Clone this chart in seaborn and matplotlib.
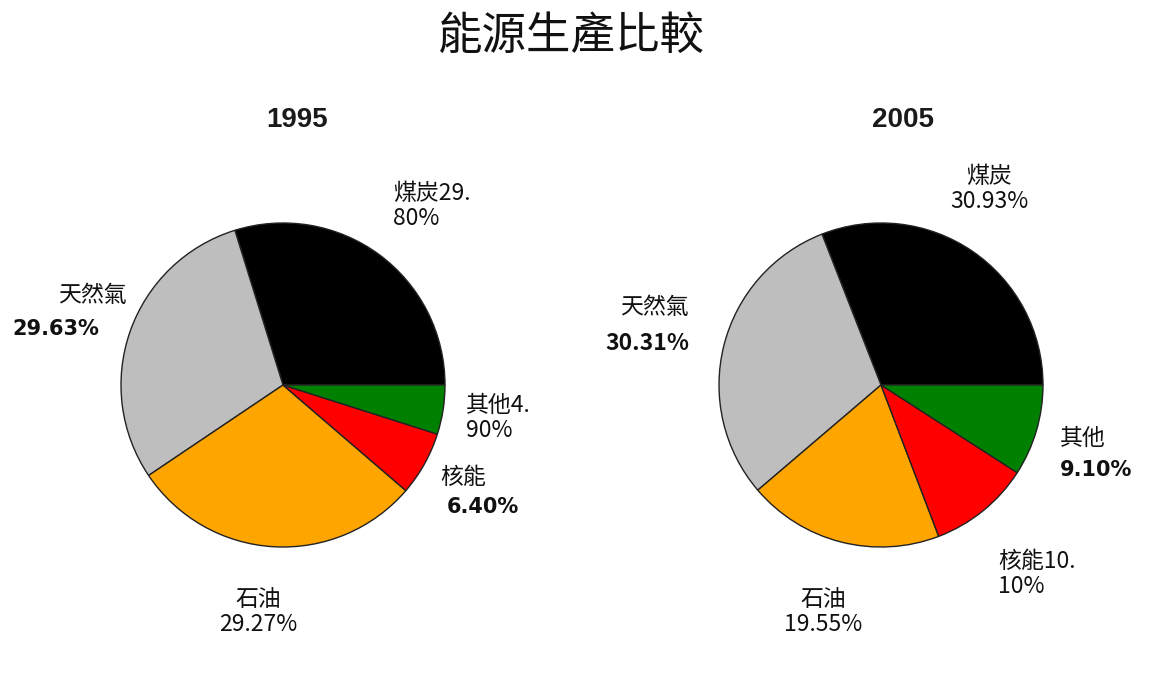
import matplotlib
matplotlib.use("Agg")
import matplotlib.pyplot as plt
import seaborn as sns

sns.set_theme(style="white")
plt.rcParams['font.family'] = ['Noto Sans CJK TC', 'DejaVu Sans']

# data
sources = ['煤炭', '天然氣', '石油', '核能', '其他']
share_1995 = [29.80, 29.63, 29.27, 6.40, 4.90]
share_2005 = [30.93, 30.31, 19.55, 10.10, 9.10]
colors = ['#000000', '#bebebe', '#ffa500', '#ff0000', '#008000']
years = ['1995', '2005']

W, H = 1152, 697
R = 162      # pie radius in pixels
HALF = 250   # half size of each axes box in pixels

fig = plt.figure(figsize=(W / 100, H / 100), dpi=100)
fig.patch.set_facecolor('white')


def draw_pie(values, cx, cy):
    ax = fig.add_axes([(cx - HALF) / W, (H - cy - HALF) / H,
                       2 * HALF / W, 2 * HALF / H])
    ax.pie(values, colors=colors, startangle=0, counterclock=True,
           wedgeprops=dict(edgecolor='#222222', linewidth=1.0))
    ax.set_xlim(-HALF / R, HALF / R)
    ax.set_ylim(-HALF / R, HALF / R)
    ax.axis('off')
    return ax


def put(ax, cx, cy, px, py, s, ha='left', **kw):
    kw.setdefault('fontsize', 16.5)
    ax.text((px - cx) / R, (cy - py) / R, s, ha=ha, va='center',
            color='#111111', clip_on=False, linespacing=1.15, **kw)


bold_pct = dict(family=['DejaVu Sans'], fontweight='bold', fontsize=15)

# 1995
c1 = (283, 385)
ax1 = draw_pie(share_1995, *c1)
put(ax1, *c1, 393, 206, '煤炭29.\n80%')
put(ax1, *c1, 92, 295, '天然氣', ha='center')
put(ax1, *c1, 56, 329, '29.63%', ha='center', **bold_pct)
put(ax1, *c1, 466, 418, '其他4.\n90%')
put(ax1, *c1, 440, 477, '核能')
put(ax1, *c1, 447, 507, '6.40%', **bold_pct)
put(ax1, *c1, 258, 612, '石油\n29.27%', ha='center')

# 2005
c2 = (881, 385)
ax2 = draw_pie(share_2005, *c2)
put(ax2, *c2, 989, 189, '煤炭\n30.93%', ha='center')
put(ax2, *c2, 654, 308, '天然氣', ha='center')
put(ax2, *c2, 647, 344, '30.31%', ha='center', fontweight='bold')
put(ax2, *c2, 1060, 438, '其他')
put(ax2, *c2, 1060, 470, '9.10%', **bold_pct)
put(ax2, *c2, 998, 574, '核能10.\n10%')
put(ax2, *c2, 823, 612, '石油\n19.55%', ha='center')

# titles
fig.text(297 / W, 1 - 120 / H, years[0], family=['Liberation Sans'],
         fontweight='bold', fontsize=20, ha='center', va='center',
         color='#1a1a1a')
fig.text(903 / W, 1 - 120 / H, years[1], family=['Liberation Sans'],
         fontweight='bold', fontsize=20, ha='center', va='center',
         color='#1a1a1a')
fig.text(571 / W, 1 - 36 / H, '能源生產比較', fontsize=32,
         ha='center', va='center', color='#111111')

fig.savefig('out.png', dpi=100, facecolor='white')
